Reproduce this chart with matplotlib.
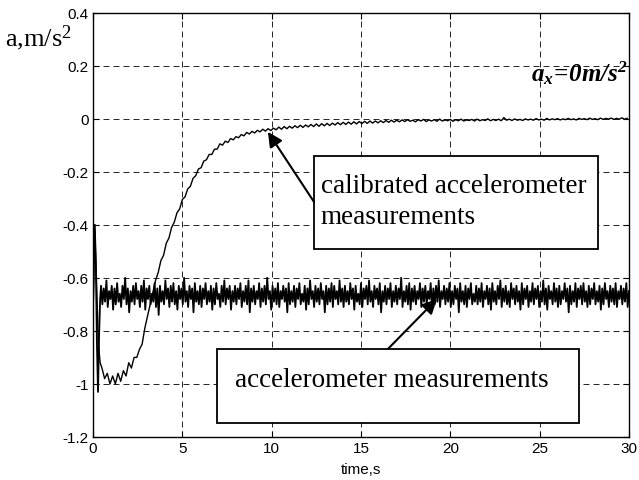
import numpy as np
import matplotlib
matplotlib.use("Agg")
import matplotlib.pyplot as plt
from matplotlib.patches import Rectangle

plt.rcParams['font.family'] = ['Liberation Sans', 'DejaVu Sans']
plt.rcParams['mathtext.fontset'] = 'custom'
plt.rcParams['mathtext.rm'] = 'Liberation Serif'
plt.rcParams['mathtext.it'] = 'Liberation Serif:italic'
plt.rcParams['mathtext.bf'] = 'Liberation Serif:bold'
plt.rcParams['mathtext.bfit'] = 'Liberation Serif:italic:bold'
plt.rcParams['lines.scale_dashes'] = False

# ---------------- data ----------------
# initial transient (time in s, acceleration in m/s^2)
t_raw_head = [0.0, 0.04, 0.1, 0.16, 0.22, 0.28, 0.34, 0.4]
raw_head = [-0.72, -0.55, -0.40, -0.55, -0.85, -1.03, -0.82, -0.68]
raw_start, raw_end = 0.45, 30.0
raw_acc = [
    -0.63,-0.70,-0.64,-0.69,-0.61,-0.71,-0.65,-0.68,-0.63,-0.72,-0.64,-0.70,-0.62,-0.69,-0.66,-0.71,-0.63,-0.68,-0.60,-0.70,
    -0.64,-0.73,-0.65,-0.69,-0.63,-0.70,-0.62,-0.68,-0.65,-0.71,-0.63,-0.69,-0.61,-0.72,-0.64,-0.68,-0.63,-0.70,-0.66,-0.69,
    -0.62,-0.71,-0.64,-0.74,-0.63,-0.69,-0.65,-0.70,-0.61,-0.68,-0.64,-0.71,-0.63,-0.69,-0.62,-0.70,-0.65,-0.72,-0.63,-0.68,
    -0.64,-0.70,-0.60,-0.69,-0.65,-0.71,-0.63,-0.68,-0.64,-0.73,-0.62,-0.69,-0.65,-0.70,-0.63,-0.71,-0.64,-0.68,-0.62,-0.70,
    -0.65,-0.69,-0.63,-0.72,-0.64,-0.70,-0.62,-0.68,-0.66,-0.71,-0.63,-0.69,-0.61,-0.70,-0.64,-0.68,-0.63,-0.72,-0.65,-0.69,
    -0.63,-0.70,-0.64,-0.68,-0.62,-0.71,-0.65,-0.69,-0.63,-0.70,-0.61,-0.73,-0.64,-0.69,-0.63,-0.70,-0.65,-0.68,-0.62,-0.71,
    -0.64,-0.69,-0.63,-0.70,-0.60,-0.68,-0.65,-0.72,-0.63,-0.69,-0.64,-0.70,-0.62,-0.71,-0.65,-0.68,-0.63,-0.69,-0.64,-0.73,
    -0.62,-0.70,-0.65,-0.69,-0.63,-0.71,-0.64,-0.68,-0.62,-0.70,-0.66,-0.69,-0.63,-0.72,-0.64,-0.70,-0.61,-0.68,-0.65,-0.71,
    -0.63,-0.69,-0.64,-0.70,-0.62,-0.68,-0.65,-0.73,-0.63,-0.70,-0.64,-0.69,-0.62,-0.71,-0.63,-0.68,-0.65,-0.70,-0.61,-0.69,
    -0.64,-0.71,-0.63,-0.69,-0.65,-0.70,-0.62,-0.68,-0.64,-0.72,-0.63,-0.69,-0.66,-0.70,-0.62,-0.71,-0.64,-0.68,-0.63,-0.70,
    -0.61,-0.69,-0.65,-0.71,-0.63,-0.68,-0.64,-0.70,-0.62,-0.73,-0.65,-0.69,-0.63,-0.70,-0.64,-0.68,-0.62,-0.71,-0.65,-0.69,
    -0.63,-0.70,-0.64,-0.68,-0.60,-0.71,-0.65,-0.69,-0.63,-0.70,-0.62,-0.72,-0.64,-0.69,-0.63,-0.70,-0.65,-0.68,-0.62,-0.71,
    -0.64,-0.69,-0.63,-0.70,-0.65,-0.68,-0.62,-0.72,-0.64,-0.70,-0.63,-0.69,-0.61,-0.71,-0.65,-0.68,-0.63,-0.70,-0.64,-0.69,
    -0.62,-0.71,-0.65,-0.70,-0.63,-0.68,-0.64,-0.73,-0.62,-0.69,-0.65,-0.70,-0.63,-0.71,-0.64,-0.68,-0.62,-0.70,-0.66,-0.69,
    -0.63,-0.70,-0.64,-0.69,-0.62,-0.71,-0.65,-0.68,-0.63,-0.70,-0.64,-0.72,-0.62,-0.69,-0.65,-0.70,-0.63,-0.68,-0.61,-0.71,
    -0.64,-0.69,-0.63,-0.70,-0.65,-0.71,-0.62,-0.68,-0.64,-0.70,-0.63,-0.69,-0.65,-0.72,-0.62,-0.70,-0.64,-0.68,-0.63,-0.71,
    -0.65,-0.69,-0.62,-0.70,-0.64,-0.68,-0.63,-0.71,-0.65,-0.69,-0.61,-0.70,-0.64,-0.72,-0.63,-0.68,-0.65,-0.70,-0.62,-0.69,
    -0.64,-0.71,-0.63,-0.70,-0.65,-0.68,-0.62,-0.69,-0.64,-0.73,-0.63,-0.70,-0.65,-0.69,-0.62,-0.71,-0.64,-0.68,-0.63,-0.70,
    -0.62,-0.69,-0.65,-0.71,-0.63,-0.70,-0.64,-0.68,-0.62,-0.70,-0.65,-0.69,-0.63,-0.72,-0.64,-0.70,-0.62,-0.68,-0.65,-0.71,
    -0.63,-0.69,-0.64,-0.70,-0.62,-0.71,-0.65,-0.68,-0.63,-0.70,-0.64,-0.69,-0.62,-0.71,-0.65,
]

t_cal_head = [0.0, 0.1, 0.2, 0.3, 0.4]
cal_head = [-0.75, -0.42, -0.62, -0.85, -0.92]
cal_start, cal_end = 0.5, 29.9
cal_acc = [
    -0.94,-0.98,-0.96,-1.00,-0.97,-1.00,-0.96,-0.99,-0.95,-0.97,
    -0.92,-0.94,-0.90,-0.90,-0.87,-0.85,-0.79,-0.745,-0.70,-0.655,
    -0.61,-0.58,-0.535,-0.515,-0.47,-0.45,-0.41,-0.39,-0.355,-0.34,
    -0.305,-0.295,-0.265,-0.255,-0.225,-0.215,-0.19,-0.185,-0.16,-0.155,
    -0.135,-0.135,-0.115,-0.115,-0.095,-0.10,-0.085,-0.09,-0.075,-0.08,
    -0.068,-0.072,-0.06,-0.065,-0.052,-0.058,-0.048,-0.054,-0.044,-0.05,
    -0.04,-0.047,-0.038,-0.045,-0.036,-0.042,-0.032,-0.04,-0.03,-0.038,
    -0.029,-0.036,-0.027,-0.034,-0.025,-0.033,-0.024,-0.031,-0.022,-0.03,
    -0.02,-0.029,-0.019,-0.027,-0.018,-0.026,-0.017,-0.024,-0.015,-0.023,
    -0.014,-0.022,-0.013,-0.021,-0.012,-0.02,-0.011,-0.019,-0.01,-0.018,
    -0.009,-0.017,-0.009,-0.016,-0.008,-0.015,-0.007,-0.014,-0.006,-0.013,
    -0.006,-0.012,-0.005,-0.011,-0.004,-0.010,-0.006,-0.012,-0.004,-0.009,
    -0.003,-0.011,-0.005,-0.009,-0.004,-0.010,-0.002,-0.009,-0.005,-0.008,
    -0.003,-0.010,-0.004,-0.008,-0.002,-0.009,-0.005,-0.007,-0.003,-0.009,
    -0.002,-0.008,-0.004,-0.007,-0.001,-0.008,-0.003,-0.007,-0.002,-0.008,
    0.004,-0.006,-0.002,-0.007,-0.001,-0.006,-0.003,-0.007,-0.001,-0.005,
    -0.002,-0.006,0.000,-0.005,-0.002,-0.006,0.001,-0.005,-0.001,-0.004,
    0.000,-0.005,-0.001,-0.004,0.001,-0.004,-0.001,-0.005,0.001,-0.003,
    0.000,-0.004,0.002,-0.003,0.000,-0.004,0.002,-0.003,0.001,-0.002,
    0.002,-0.003,0.001,-0.002,0.003,-0.002,0.001,
]

x_ticks = [0, 5, 10, 15, 20, 25, 30]
y_ticks = [-1.2, -1, -0.8, -0.6, -0.4, -0.2, 0, 0.2, 0.4]
y_ticklabels = ['-1.2', '-1', '-0.8', '-0.6', '-0.4', '-0.2', '0', '0.2', '0.4']

# ---------------- figure ----------------
fig = plt.figure(figsize=(6.39, 4.81), dpi=100)
ax = fig.add_axes([93/639, 1-438/481, 536/639, 424.5/481])

t_raw = np.concatenate([t_raw_head, np.linspace(raw_start, raw_end, len(raw_acc))])
y_raw = np.concatenate([raw_head, raw_acc])
t_cal = np.concatenate([t_cal_head, np.linspace(cal_start, cal_end, len(cal_acc))])
y_cal = np.concatenate([cal_head, cal_acc])

ax.plot(t_raw, y_raw, color='black', lw=1.3)
ax.plot(t_cal, y_cal, color='black', lw=1.0)

ax.set_xlim(0, 30)
ax.set_ylim(-1.2, 0.4)
ax.set_xticks(x_ticks)
ax.set_yticks(y_ticks)
ax.set_yticklabels(y_ticklabels)
ax.tick_params(direction='in', length=4, width=0.8, labelsize=11,
               top=True, right=True, pad=3)
ax.grid(True, color='black', lw=0.6, linestyle=(0, (4.3, 2.9)))
for s in ax.spines.values():
    s.set_linewidth(1.0)
ax.set_xlabel('time,s', fontsize=11, labelpad=5)

fig.text(5/639, 1-38/481, r'a,m/s$^2$', fontsize=19, family='Liberation Serif',
         ha='left', va='center')
ax.text(0.997, 0.86, r'$\mathbfit{a_x\!=\!0m/s^2}$', transform=ax.transAxes,
        fontsize=18, ha='right', va='center')

# annotation boxes
ax.add_patch(Rectangle((12.37, -0.491), 28.26-12.37, 0.35, fill=True,
                       facecolor='white', edgecolor='black', lw=1.3, zorder=5))
ax.text(12.75, -0.31, 'calibrated accelerometer\nmeasurements', fontsize=19.5,
        family='Liberation Serif', ha='left', va='center', linespacing=1.3, zorder=6)
ax.add_patch(Rectangle((6.94, -1.147), 27.2-6.94, 0.279, fill=True,
                       facecolor='white', edgecolor='black', lw=1.3, zorder=5))
ax.text(16.75, -0.985, 'accelerometer measurements', fontsize=19.5,
        family='Liberation Serif', ha='center', va='center', zorder=6)

ax.annotate('', xy=(9.79, -0.05), xytext=(12.37, -0.314),
            arrowprops=dict(arrowstyle='-|>', color='black', lw=1.5,
                            mutation_scale=22, shrinkA=0, shrinkB=0), zorder=7)
ax.annotate('', xy=(19.25, -0.68), xytext=(16.51, -0.868),
            arrowprops=dict(arrowstyle='-|>', color='black', lw=1.5,
                            mutation_scale=22, shrinkA=0, shrinkB=0), zorder=7)

fig.savefig('out.png', dpi=100)
